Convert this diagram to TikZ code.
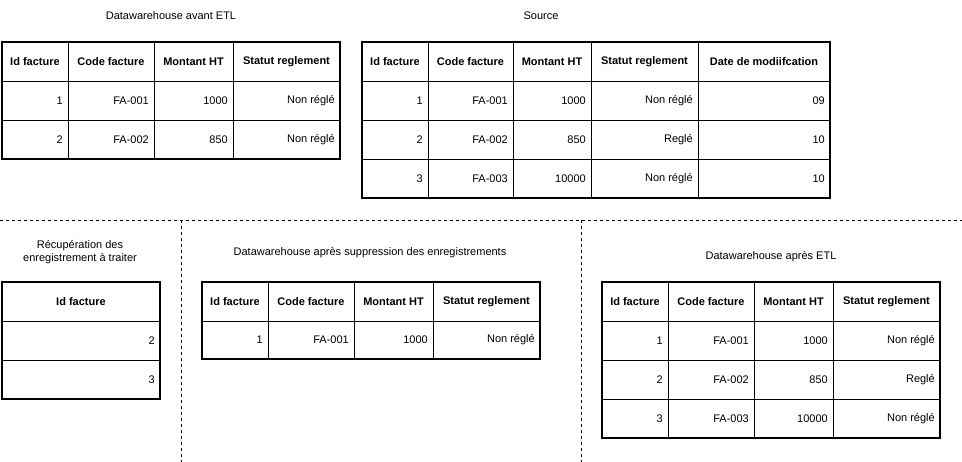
\documentclass[tikz,border=0pt]{standalone}
\usepackage{fontspec}
\setmainfont{Liberation Sans}
\newcommand\hc[6]{\draw[cellline] (#2,#3) rectangle (#4,#5); \node[hdr] (#1) at ({(#2+#4)/2},{(#3+#5)/2}) {#6};}
\newcommand\dc[6]{\draw[cellline] (#2,#3) rectangle (#4,#5); \node[dat] (#1) at ({#4-5},{(#3+#5)/2}) {#6};}
\begin{document}
\begin{tikzpicture}[x=1pt,y=-1pt,
  cellline/.style={draw=black,line width=0.8pt},
  outer/.style={draw=black,line width=1.8pt},
  hdr/.style={font=\fontsize{11}{13}\selectfont\bfseries,inner sep=0pt},
  dat/.style={font=\fontsize{11}{13}\selectfont,anchor=east,inner sep=0pt},
  ttl/.style={font=\fontsize{11}{13}\selectfont,align=center,inner sep=0pt},
  sep/.style={draw=black,dashed,line width=0.8pt}]
\useasboundingbox (0,0) rectangle (962,462);
% separators
\coordinate (h1) at (0,220); \coordinate (h2) at (962,220);
\coordinate (v1a) at (181,220); \coordinate (v1b) at (181,462);
\coordinate (v2a) at (581,220); \coordinate (v2b) at (581,462);
\draw[sep] (h1) -- (h2); \draw[sep] (v1a) -- (v1b); \draw[sep] (v2a) -- (v2b);
% titles
\node[ttl] (t1) at (171,16) {Datawarehouse avant ETL};
\node[ttl] (t2) at (541,16) {Source};
\node[ttl] (t3) at (80,252) {Récupération des\\enregistrement à traiter};
\node[ttl] (t4) at (370,253) {Datawarehouse après suppression des enregistrements};
\node[ttl] (t5) at (771,257) {Datawarehouse après ETL};
% table 1
\foreach \a/\b/\t [count=\i] in {2/68/Id facture,68/154/Code facture,154/233/Montant HT,233/340/Statut reglement}{\hc{a0\i}{\a}{42}{\b}{81}{\t}}
\foreach \a/\b/\t [count=\i] in {2/68/1,68/154/FA-001,154/233/1000,233/340/Non réglé}{\dc{a1\i}{\a}{81}{\b}{120}{\t}}
\foreach \a/\b/\t [count=\i] in {2/68/2,68/154/FA-002,154/233/850,233/340/Non réglé}{\dc{a2\i}{\a}{120}{\b}{159}{\t}}
\draw[outer] (2,42) rectangle (340,159);
% table 2
\foreach \a/\b/\t [count=\i] in {362/428/Id facture,428/513/Code facture,513/591/Montant HT,591/698/Statut reglement,698/830/Date de modiifcation}{\hc{b0\i}{\a}{42}{\b}{81}{\t}}
\foreach \a/\b/\t [count=\i] in {362/428/1,428/513/FA-001,513/591/1000,591/698/Non réglé,698/830/09/09/2018}{\dc{b1\i}{\a}{81}{\b}{120}{\t}}
\foreach \a/\b/\t [count=\i] in {362/428/2,428/513/FA-002,513/591/850,591/698/Reglé,698/830/10/09/2018}{\dc{b2\i}{\a}{120}{\b}{159}{\t}}
\foreach \a/\b/\t [count=\i] in {362/428/3,428/513/FA-003,513/591/10000,591/698/Non réglé,698/830/10/09/2018}{\dc{b3\i}{\a}{159}{\b}{198}{\t}}
\draw[outer] (362,42) rectangle (830,198);
% table 3
\hc{c01}{2}{282}{160}{321}{Id facture}
\dc{c11}{2}{321}{160}{360}{2}
\dc{c21}{2}{360}{160}{399}{3}
\draw[outer] (2,282) rectangle (160,399);
% table 4
\foreach \a/\b/\t [count=\i] in {202/268/Id facture,268/354/Code facture,354/433/Montant HT,433/540/Statut reglement}{\hc{d0\i}{\a}{282}{\b}{321}{\t}}
\foreach \a/\b/\t [count=\i] in {202/268/1,268/354/FA-001,354/433/1000,433/540/Non réglé}{\dc{d1\i}{\a}{321}{\b}{359}{\t}}
\draw[outer] (202,282) rectangle (540,359);
% table 5
\foreach \a/\b/\t [count=\i] in {602/668/Id facture,668/754/Code facture,754/833/Montant HT,833/940/Statut reglement}{\hc{e0\i}{\a}{282}{\b}{321}{\t}}
\foreach \a/\b/\t [count=\i] in {602/668/1,668/754/FA-001,754/833/1000,833/940/Non réglé}{\dc{e1\i}{\a}{321}{\b}{360}{\t}}
\foreach \a/\b/\t [count=\i] in {602/668/2,668/754/FA-002,754/833/850,833/940/Reglé}{\dc{e2\i}{\a}{360}{\b}{399}{\t}}
\foreach \a/\b/\t [count=\i] in {602/668/3,668/754/FA-003,754/833/10000,833/940/Non réglé}{\dc{e3\i}{\a}{399}{\b}{438}{\t}}
\draw[outer] (602,282) rectangle (940,438);
\end{tikzpicture}
\end{document}
